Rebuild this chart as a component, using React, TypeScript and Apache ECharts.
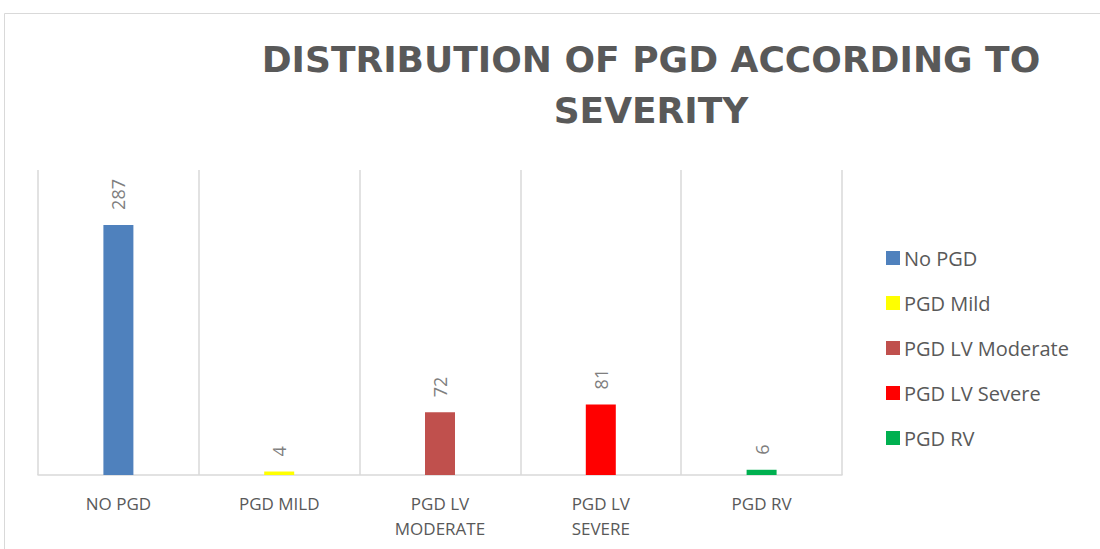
import React, { useEffect, useRef } from "react";
import * as echarts from "echarts";

const categories = ["NO PGD", "PGD MILD", "PGD LV\nMODERATE", "PGD LV\nSEVERE", "PGD RV"];
const seriesNames = ["No PGD", "PGD Mild", "PGD LV Moderate", "PGD LV Severe", "PGD RV"];
const values = [287, 4, 72, 81, 6];
const colors = ["#4f81bd", "#ffff00", "#c0504d", "#ff0000", "#00b050"];
const titleText = "DISTRIBUTION OF PGD ACCORDING TO\nSEVERITY";

export default function App() {
  const ref = useRef<HTMLDivElement>(null);
  useEffect(() => {
    if (!ref.current) return;
    const chart = echarts.init(ref.current, undefined, { renderer: "svg" });
    const series = seriesNames.map((name, i) => ({
      name,
      type: "bar" as const,
      stack: "total",
      barWidth: 30,
      itemStyle: { color: colors[i] },
      data: values.map((v, j) => (j === i ? v : "-")),
      label: {
        show: true,
        position: "top" as const,
        rotate: 90,
        align: "left",
        verticalAlign: "middle",
        distance: 15,
        color: "#7f7f7f",
        fontSize: 18,
        fontFamily: "Open Sans",
      },
    }));
    chart.setOption({
      animation: false,
      backgroundColor: "#ffffff",
      graphic: [
        {
          type: "rect",
          shape: { x: 4.5, y: 13.5, width: 1200, height: 600 },
          style: { fill: "none", stroke: "#d9d9d9", lineWidth: 1 },
          silent: true,
        },
      ],
      title: {
        text: titleText,
        left: 646,
        top: 29,
        textAlign: "center",
        textStyle: {
          fontSize: 36,
          fontWeight: "bold",
          color: "#595959",
          fontFamily: "DejaVu Sans",
          lineHeight: 51,
        },
      },
      legend: {
        orient: "vertical",
        left: 881,
        top: 243,
        itemWidth: 14,
        itemHeight: 14,
        itemGap: 25,
        icon: "rect",
        data: seriesNames,
        textStyle: { fontSize: 20, color: "#595959", fontFamily: "Open Sans", padding: [0, 0, 0, -1] },
      },
      grid: { left: 38, right: 258, top: 170, bottom: 74, containLabel: false },
      xAxis: {
        type: "category",
        data: categories,
        axisLine: { show: true, lineStyle: { color: "#d9d9d9", width: 1.5 } },
        axisTick: { show: false },
        splitLine: { show: true, lineStyle: { color: "#d9d9d9", width: 1.5 } },
        axisLabel: {
          color: "#595959",
          fontSize: 17,
          fontFamily: "Open Sans",
          margin: 16,
          lineHeight: 25,
          interval: 0,
        },
      },
      yAxis: {
        type: "value",
        min: 0,
        max: 350,
        interval: 50,
        show: false,
        splitLine: { show: false },
      },
      series,
    });
    return () => chart.dispose();
  }, []);
  return (
    <div
      ref={ref}
      style={{ position: "fixed", left: 0, top: 0, width: 1100, height: 549 }}
    />
  );
}
